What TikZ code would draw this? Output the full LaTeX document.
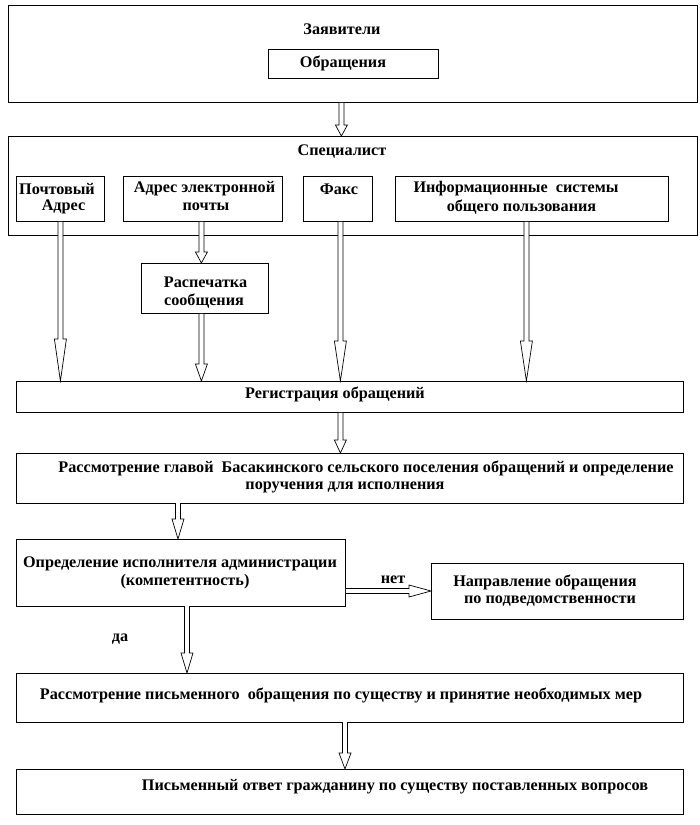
\documentclass[tikz,border=0pt]{standalone}
\usepackage{fontspec}
\setmainfont{Liberation Serif}
\usetikzlibrary{calc}
\newcommand{\hollowarrow}[3]{%
  \coordinate (hb) at ($#2!#3pt!#1$);
  \filldraw[arrline] ($#1!2.5pt!90:#2$) -- ($(hb)!2.5pt!-90:#1$) -- ($(hb)!6pt!-90:#1$) -- #2 -- ($(hb)!6pt!90:#1$) -- ($(hb)!2.5pt!90:#1$) -- ($#1!2.5pt!-90:#2$);
}
\tikzset{
  box/.style={draw, line width=0.8pt, inner sep=0pt, anchor=north west},
  txt/.style={font=\bfseries\fontsize{16.2}{19}\selectfont, inner sep=0pt},
  arrline/.style={line width=0.7pt, fill=white},
}
\begin{document}
\begin{tikzpicture}[x=1pt,y=-1pt]
\fill[white] (0,0) rectangle (700,825);
\useasboundingbox (0,0) rectangle (700,825);
% boxes
\node[box, minimum width=689pt, minimum height=97pt] (zayav) at (8,5) {};
\node[box, minimum width=170pt, minimum height=29pt] (obr) at (268,49) {};
\node[box, minimum width=689pt, minimum height=99pt] (spec) at (8,136) {};
\node[box, minimum width=88pt, minimum height=45pt] (post) at (16,176) {};
\node[box, minimum width=159pt, minimum height=45pt] (email) at (123,176) {};
\node[box, minimum width=69pt, minimum height=45pt] (fax) at (303,176) {};
\node[box, minimum width=273pt, minimum height=45pt] (info) at (395,176) {};
\node[box, minimum width=127pt, minimum height=50pt] (print) at (141,263) {};
\node[box, minimum width=667pt, minimum height=31pt] (reg) at (16,381) {};
\node[box, minimum width=667pt, minimum height=50pt] (review) at (16,453) {};
\node[box, minimum width=329pt, minimum height=67pt] (determ) at (16,539) {};
\node[box, minimum width=252pt, minimum height=56pt] (redir) at (431,563) {};
\node[box, minimum width=667pt, minimum height=49pt] (consider) at (16,673) {};
\node[box, minimum width=667pt, minimum height=45pt] (answer) at (16,769) {};
% texts
\node[txt] (tzayav) at (342,29) {Заявители};
\node[txt] (tobr) at (343,63) {Обращения};
\node[txt] (tspec) at (342,152) {Специалист};
\node[txt] (tpost1) at (57,189) {Почтовый};
\node[txt] (tpost2) at (63.5,207) {Адрес};
\node[txt] (temail1) at (204.5,189) {Адрес электронной};
\node[txt] (temail2) at (206,207) {почты};
\node[txt] (tfax) at (339,189) {Факс};
\node[txt] (tinfo1) at (516,189) {Информационные\ \ системы};
\node[txt] (tinfo2) at (521.5,207) {общего пользования};
\node[txt] (tprint1) at (205.5,282) {Распечатка};
\node[txt] (tprint2) at (204,301) {сообщения};
\node[txt] (treg) at (335,394) {Регистрация обращений};
\node[txt] (treview1) at (366,468) {Рассмотрение главой\ \ Басакинского сельского поселения обращений и определение};
\node[txt] (treview2) at (345,487) {поручения для исполнения};
\node[txt] (tdet1) at (180,564) {Определение исполнителя администрации};
\node[txt] (tdet2) at (185,582) {(компетентность)};
\node[txt] (tredir1) at (545,582) {Направление обращения};
\node[txt] (tredir2) at (550,601) {по подведомственности};
\node[txt] (tno) at (393,580) {нет};
\node[txt] (tyes) at (120,639) {да};
\node[txt] (tcons) at (341,695) {Рассмотрение письменного\ \ обращения по существу и принятие необходимых мер};
\node[txt] (tans) at (395,787) {Письменный ответ гражданину по существу поставленных вопросов};
% arrows
\coordinate (a1) at ([xshift=-11.5pt]zayav.south);
\coordinate (a2) at (a1 |- spec.north);
\hollowarrow{(a1)}{(a2)}{11}
\coordinate (b1) at (post.south);
\coordinate (b2) at (b1 |- reg.north);
\hollowarrow{(b1)}{(b2)}{42}
\coordinate (c1) at ([xshift=-1.5pt]email.south);
\coordinate (c2) at (c1 |- print.north);
\hollowarrow{(c1)}{(c2)}{11}
\coordinate (d1) at (c2 |- print.south);
\coordinate (d2) at (c2 |- reg.north);
\hollowarrow{(d1)}{(d2)}{17}
\coordinate (e1) at ([xshift=2.5pt]fax.south);
\coordinate (e2) at (e1 |- reg.north);
\hollowarrow{(e1)}{(e2)}{40}
\coordinate (f1) at ([xshift=-5.5pt]info.south);
\coordinate (f2) at (f1 |- reg.north);
\hollowarrow{(f1)}{(f2)}{40}
\coordinate (g1) at ([xshift=-9.5pt]reg.south);
\coordinate (g2) at (g1 |- review.north);
\hollowarrow{(g1)}{(g2)}{13}
\coordinate (h1) at (178,503);
\coordinate (h2) at (h1 |- determ.north);
\hollowarrow{(h1)}{(h2)}{20}
\coordinate (i1) at (determ.east |- 0,591);
\coordinate (i2) at (redir.west |- i1);
\hollowarrow{(i1)}{(i2)}{22}
\coordinate (j1) at (187,606);
\coordinate (j2) at (j1 |- consider.north);
\hollowarrow{(j1)}{(j2)}{20}
\coordinate (k1) at (345,722);
\coordinate (k2) at (k1 |- answer.north);
\hollowarrow{(k1)}{(k2)}{16}
\end{tikzpicture}
\end{document}
